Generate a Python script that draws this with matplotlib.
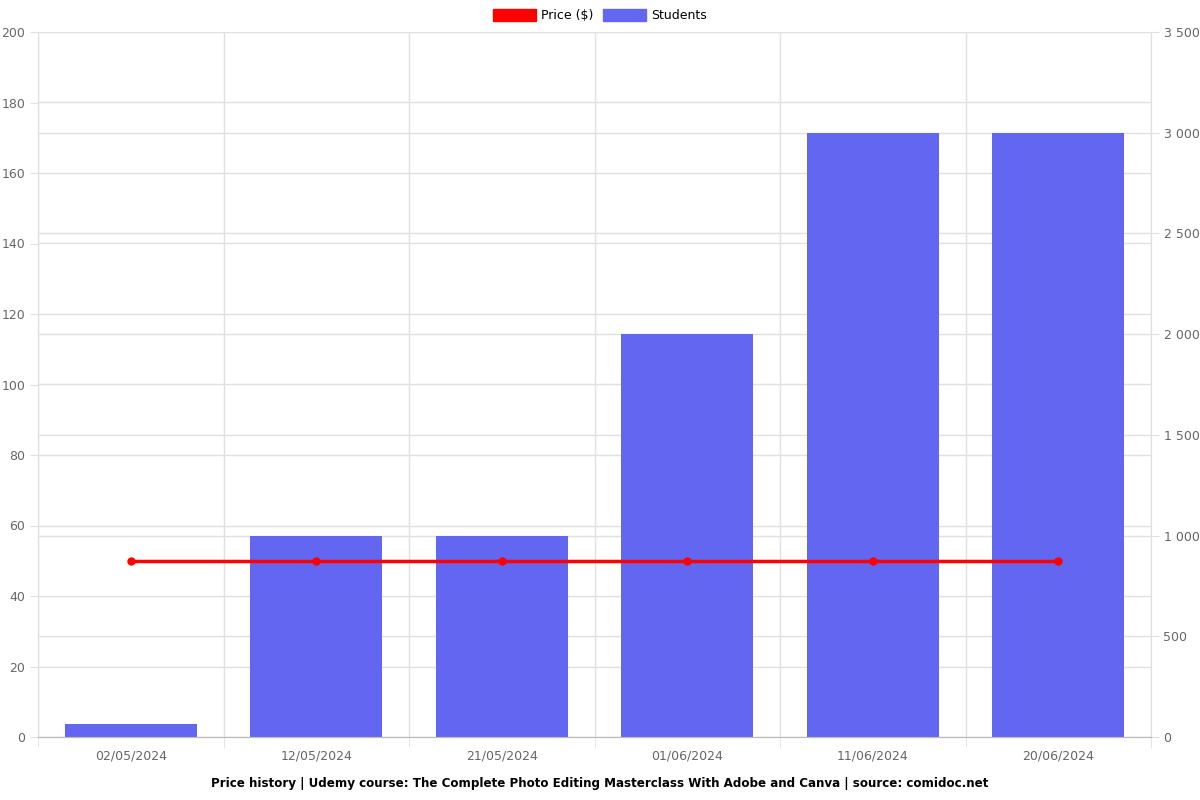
import numpy as np
from matplotlib import pyplot as plt
from matplotlib.patches import Patch
from matplotlib.ticker import FuncFormatter, MultipleLocator

dates = ["02/05/2024", "12/05/2024", "21/05/2024", "01/06/2024", "11/06/2024", "20/06/2024"]
price = [50, 50, 50, 50, 50, 50]
students = [65, 998, 998, 2000, 3000, 3000]

bar_color = "#6366f1"
line_color = "#ff0000"
grid_color = "#e0e0e0"
text_color = "#666666"

fig = plt.figure(figsize=(12, 8), dpi=100)
ax = fig.add_axes([38 / 1200, 63 / 800, (1151 - 38) / 1200, (737 - 32) / 800])
ax2 = ax.twinx()

x = np.arange(len(dates))

# students bars on the right axis, price line on the left (drawn on top)
ax2.bar(x, students, width=0.71, color=bar_color, zorder=2)
ax2.set_ylim(0, 3500)
ax2.yaxis.set_major_locator(MultipleLocator(500))
# left-scale grid (every 20 $) expressed on the students axis so it stays under the bars
ax2.yaxis.set_minor_locator(MultipleLocator(3500 / 10))
ax2.yaxis.set_major_formatter(FuncFormatter(lambda v, p: f"{int(v):,}".replace(",", " ")))
ax2.grid(axis="y", which="both", color=grid_color, lw=1, zorder=0)
ax2.tick_params(axis="y", which="minor", length=0)
ax2.set_axisbelow(True)

ax.set_zorder(ax2.get_zorder() + 1)
ax.patch.set_visible(False)
ax.plot(x, price, "-o", color=line_color, lw=2.5, ms=5, zorder=3)
ax.set_ylim(0, 200)
ax.yaxis.set_major_locator(MultipleLocator(20))
ax.set_xlim(-0.5, len(dates) - 0.5)

ax.set_xticks(x)
ax.set_xticklabels(dates)
ax.set_xticks(np.arange(-0.5, len(dates)), minor=True)
ax.tick_params(axis="x", which="major", length=0, pad=9)
ax.tick_params(axis="x", which="minor", length=8, color=grid_color)
# category boundaries fall between bars, so this grid can sit on the top axes
ax.grid(axis="x", which="minor", color=grid_color, lw=1, zorder=0)

for a in (ax, ax2):
    a.tick_params(axis="y", which="major", length=6, pad=3, color=grid_color,
                  labelcolor=text_color, labelsize=9)
    a.tick_params(axis="x", labelcolor=text_color, labelsize=9)
    for s in a.spines.values():
        s.set_color(grid_color)
    a.spines["top"].set_visible(False)
    a.spines["bottom"].set_color("#bbbbbb")

handles = [Patch(color=line_color, label="Price ($)"), Patch(color=bar_color, label="Students")]
fig.legend(handles=handles, loc="upper center", bbox_to_anchor=(0.5, 1.003), ncol=2,
           frameon=False, fontsize=9, handlelength=3.4, handleheight=1.1,
           columnspacing=0.8, handletextpad=0.4)

fig.text(0.5, 0.021, "Price history | Udemy course: The Complete Photo Editing Masterclass With Adobe and Canva | source: comidoc.net",
         ha="center", va="center", fontsize=8.6, fontweight="bold")

fig.savefig("out.png", dpi=100)
